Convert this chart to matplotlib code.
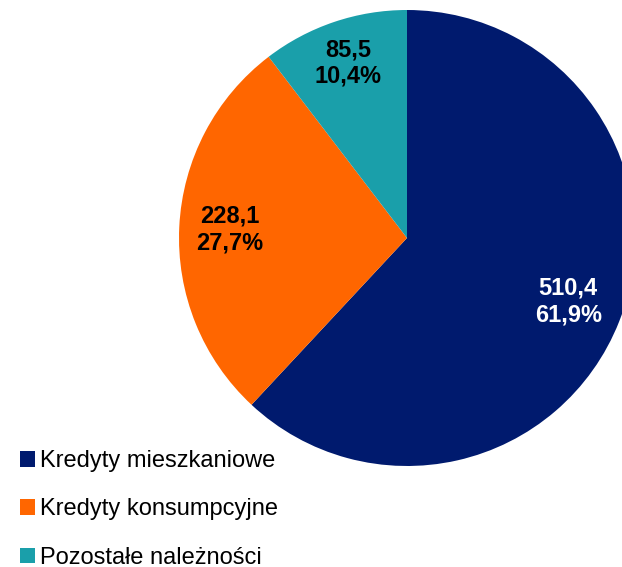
import math
import matplotlib.pyplot as plt

plt.rcParams['font.family'] = ['Liberation Sans', 'DejaVu Sans']

categories = ["Kredyty mieszkaniowe", "Kredyty konsumpcyjne", "Pozostałe należności"]
values = [510.4, 228.1, 85.5]
colors = ["#001A6E", "#FF6600", "#1A9FAA"]
label_colors = ["white", "black", "black"]


def fmt_label(v, total):
    pct = v / total * 100
    return f"{v:.1f}\n{pct:.1f}%".replace(".", ",")


fig = plt.figure(figsize=(6.22, 5.67), dpi=100)
# square axes, pie spills over the right edge like in the original
ax = fig.add_axes([179 / 622, (567 - 466) / 567, 456 / 622, 456 / 567])

total = sum(values)
wedges, _ = ax.pie(values, colors=colors, startangle=90, counterclock=False,
                   radius=1.0, wedgeprops={"linewidth": 0})

# labels sit a bit inside the middle of each wedge
dists = [0.76, 0.78, 0.81]
for w, v, c, d in zip(wedges, values, label_colors, dists):
    ang = math.radians((w.theta1 + w.theta2) / 2)
    ax.text(d * math.cos(ang), d * math.sin(ang), fmt_label(v, total),
            ha="center", va="center", color=c, fontsize=17, fontweight="bold")

ax.set_xlim(-1, 1)
ax.set_ylim(-1, 1)
ax.set_aspect("equal")
ax.axis("off")

fig.legend(wedges, categories, loc="upper left", bbox_to_anchor=(20 / 622, 1 - 450 / 567),
           frameon=False, fontsize=17, handlelength=0.64, handleheight=0.64,
           handletextpad=0.2, labelspacing=1.12, borderpad=0, borderaxespad=0)

plt.savefig("out.png", dpi=100)
